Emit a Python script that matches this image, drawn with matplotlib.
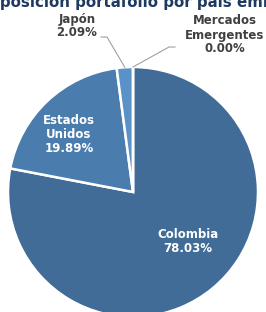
import numpy as np
import matplotlib

matplotlib.use("Agg")
import matplotlib.pyplot as plt

# data
paises = ["Colombia", "Estados Unidos", "Japón", "Mercados Emergentes"]
etiquetas = ["Colombia", "Estados\nUnidos", "Japón", "Mercados\nEmergentes"]
porcentajes = [78.03, 19.89, 2.09, 0.00]
colores = ["#406C97", "#4A7DAE", "#5A92C8", "#6FA3D6"]
titulo = "Composición portafolio por país emisor"

W, H = 266, 312
fig = plt.figure(figsize=(W / 100, H / 100), dpi=100)
ax = fig.add_axes([0, 0, 1, 1])

cx, cy, r = 133, 120, 125
wedges, _ = ax.pie(porcentajes, colors=colores, startangle=90, counterclock=False,
                   center=(cx, cy), radius=r, frame=True,
                   wedgeprops=dict(edgecolor="white", linewidth=1.8))
ax.set_xlim(0, W)
ax.set_ylim(0, H)
ax.set_aspect("equal")
ax.axis("off")

font = dict(fontsize=8.5, fontweight="bold", ha="center", va="center",
            linespacing=1.1, family="DejaVu Sans")

def fmt(v):
    return f"{v:.2f}%"

# inside labels
ax.text(188, H - 242, f"{etiquetas[0]}\n{fmt(porcentajes[0])}", color="white", **font)
ax.text(69, H - 135, f"{etiquetas[1]}\n{fmt(porcentajes[1])}", color="white", **font)

# outside labels with leader lines
gris = "#404040"
ax.text(77, H - 26, f"{etiquetas[2]}\n{fmt(porcentajes[2])}", color=gris, **font)
ax.text(225, H - 35, f"{etiquetas[3]}\n{fmt(porcentajes[3])}", color=gris, **font)

def borde(w):
    ang = np.deg2rad((w.theta1 + w.theta2) / 2)
    return cx + r * np.cos(ang), cy + r * np.sin(ang)

x2, y2 = borde(wedges[2])
ax.plot([101, 107, x2], [H - 37, H - 37, y2], color="#A0A0A0", lw=0.8)
x3, y3 = borde(wedges[3])
ax.plot([175, 169, x3], [H - 47, H - 47, y3], color="#A0A0A0", lw=0.8)

# title, clipped at the top edge as in the reference:
# "posición" starts at the left edge and "país" starts near x=197
renderer = fig.canvas.get_renderer()

def ancho(s, size):
    t = fig.text(0, 0, s, fontsize=size, fontweight="bold")
    w = t.get_window_extent(renderer).width
    t.remove()
    return w

size = 12.0
tramo = ancho("Composición portafolio por ", size) - ancho("Com", size)
size = size * 197 / tramo
x0 = -ancho("Com", size)
ax.text(x0, H - 7, titulo, fontsize=size, fontweight="bold", color="#1F3A60",
        ha="left", va="baseline", clip_on=False)

fig.savefig("out.png", dpi=100)
